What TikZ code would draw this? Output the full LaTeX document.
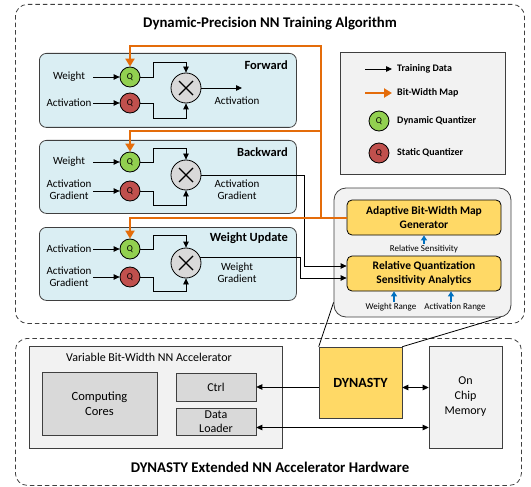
\documentclass[tikz,border=0pt]{standalone}
\usepackage{fontspec}
\setmainfont{Carlito}
\usetikzlibrary{arrows.meta,calc}
\definecolor{pblue}{HTML}{DAEEF3}
\definecolor{qgreen}{HTML}{92D050}
\definecolor{qred}{HTML}{C0504D}
\definecolor{borange}{HTML}{E46C0A}
\definecolor{dyellow}{HTML}{FFD966}
\definecolor{lgray}{HTML}{F2F2F2}
\definecolor{mgray}{HTML}{D9D9D9}
\definecolor{sblue}{HTML}{0070C0}
\definecolor{edgec}{HTML}{3F3F3F}
\pgfdeclarelayer{bg}
\pgfsetlayers{bg,main}
\tikzset{
  outerbox/.style={draw=edgec, dash pattern=on 4.5pt off 3pt, line width=0.8pt, rounded corners=12pt, anchor=north west, inner sep=0},
  panel/.style={draw=edgec, fill=pblue, rounded corners=7pt, line width=0.8pt, anchor=north west, inner sep=0},
  qbase/.style={circle, draw=black, minimum size=20pt, inner sep=0, line width=0.8pt, font=\fontsize{9}{10}\selectfont},
  qg/.style={qbase, fill=qgreen},
  qr/.style={qbase, fill=qred},
  mult/.style={circle, draw=black, fill=mgray, minimum size=30pt, inner sep=0, line width=0.8pt,
    path picture={\draw[line width=1.4pt] ([shift={(-7pt,-7pt)}]path picture bounding box.center) -- ([shift={(7pt,7pt)}]path picture bounding box.center);
                  \draw[line width=1.4pt] ([shift={(-7pt,7pt)}]path picture bounding box.center) -- ([shift={(7pt,-7pt)}]path picture bounding box.center);}},
  data/.style={-{Triangle[length=6pt,width=5.5pt]}, line width=0.8pt},
  bidata/.style={{Triangle[length=6pt,width=5.5pt]}-{Triangle[length=6pt,width=5.5pt]}, line width=0.8pt},
  bw/.style={-{Triangle[length=8pt,width=9pt]}, draw=borange, line width=2pt},
  sarrow/.style={-{Triangle[length=5pt,width=6pt]}, draw=sblue, line width=1.2pt},
  lbl/.style={font=\fontsize{11}{12}\selectfont, align=center, inner sep=0},
  inlbl/.style={lbl, minimum width=48pt},
  ptitle/.style={font=\bfseries\fontsize{12.5}{14}\selectfont, anchor=east, inner sep=0},
  legtxt/.style={font=\bfseries\fontsize{10}{12}\selectfont, anchor=west, inner sep=0},
  small/.style={font=\fontsize{9}{10}\selectfont, inner sep=1pt},
  ybox/.style={draw=black, fill=dyellow, rounded corners=5pt, line width=0.8pt, align=center, font=\bfseries\fontsize{11.5}{14}\selectfont, inner sep=0},
  gbox/.style={draw=edgec, fill=lgray, line width=0.6pt, inner sep=0, align=center, font=\fontsize{12}{15}\selectfont},
  dbox/.style={draw=edgec, fill=mgray, line width=0.6pt, inner sep=0, align=center, font=\fontsize{12.5}{15}\selectfont},
  bigtitle/.style={font=\bfseries\fontsize{14.8}{17}\selectfont, inner sep=0}
}
\begin{document}
\begin{tikzpicture}[x=1pt,y=-1pt]
\useasboundingbox (0,0) rectangle (531,487);
\begin{pgfonlayer}{bg}
\node[outerbox, minimum width=509pt, minimum height=319pt] (topbox) at (15,4) {};
\node[outerbox, minimum width=506pt, minimum height=147pt] (botbox) at (15,338) {};
\end{pgfonlayer}
\node[bigtitle] (t1) at (270,24) {Dynamic-Precision NN Training Algorithm};
\node[bigtitle] (t2) at (270,467) {DYNASTY Extended NN Accelerator Hardware};

% panels
\node[panel, minimum width=257pt, minimum height=74pt] (pf) at (39,53) {};
\node[panel, minimum width=257pt, minimum height=73pt] (pb) at (39,140) {};
\node[panel, minimum width=257pt, minimum height=73pt] (pw) at (39,227) {};
\node[ptitle] (tf) at (288,65) {Forward};
\node[ptitle] (tb) at (288,152) {Backward};
\node[ptitle] (tw) at (288,238) {Weight Update};

% forward
\node[qg] (g1) at (130,77) {Q};
\node[qr] (r1) at (130,103) {Q};
\node[mult] (m1) at (186,88) {};
\node[inlbl] (l1a) at (69,77) {Weight};
\node[inlbl] (l1b) at (69,103) {Activation};
\coordinate (o1) at (242,88);
\node[lbl] (l1o) at (237,101) {Activation};
\draw[data] (l1a.east) -- (g1.west);
\draw[data] (l1b.east) -- (r1.west);
\draw[data] (g1.east) -| (153,62) -| (m1.north);
\draw[data] (r1.east) -| (153,118) -| (m1.south);
\draw[data] (m1.east) -- (o1);

% backward
\node[qg] (g2) at (130,162) {Q};
\node[qr] (r2) at (130,191) {Q};
\node[mult] (m2) at (186,175) {};
\node[inlbl] (l2a) at (69,162) {Weight};
\node[inlbl] (l2b) at (69,190) {Activation\\Gradient};
\node[lbl] (l2o) at (237,190) {Activation\\Gradient};
\draw[data] (l2a.east) -- (g2.west);
\draw[data] (l2b.east |- r2.west) -- (r2.west);
\draw[data] (g2.east) -| (153,148) -| (m2.north);
\draw[data] (r2.east) -| (153,205) -| (m2.south);

% weight update
\node[qg] (g3) at (130,249) {Q};
\node[qr] (r3) at (130,277) {Q};
\node[mult] (m3) at (186,263) {};
\node[inlbl] (l3a) at (69,249) {Activation};
\node[inlbl] (l3b) at (69,277) {Activation\\Gradient};
\node[lbl] (l3o) at (237,273) {Weight\\Gradient};
\draw[data] (l3a.east) -- (g3.west);
\draw[data] (l3b.east |- r3.west) -- (r3.west);
\draw[data] (g3.east) -| (153,235) -| (m3.north);
\draw[data] (r3.east) -| (153,291) -| (m3.south);

% legend
\node[gbox, minimum width=165pt, minimum height=122pt] (leg) at (422.5,113) {};
\coordinate (la1) at (365,69);
\coordinate (la2) at (392,69);
\coordinate (lb1) at (365,93);
\coordinate (lb2) at (392,93);
\draw[data] (la1) -- (la2);
\draw[bw] (lb1) -- (lb2);
\node[legtxt] (lt1) at (397,69) {Training Data};
\node[legtxt] (lt2) at (397,93) {Bit-Width Map};
\node[qg] (lq1) at (379,121) {Q};
\node[qr] (lq2) at (379,153) {Q};
\node[legtxt] (lt3) at (397,121) {Dynamic Quantizer};
\node[legtxt] (lt4) at (397,153) {Static Quantizer};

% analytics panel
\node[draw=edgec, fill=lgray, rounded corners=12pt, line width=0.8pt, minimum width=177pt, minimum height=129pt, inner sep=0] (ana) at (422.5,252.5) {};
\node[ybox, minimum width=154pt, minimum height=35pt] (ab) at (424,217.5) {Adaptive Bit-Width Map\\Generator};
\node[ybox, minimum width=154pt, minimum height=35pt] (rqa) at (424,273.5) {Relative Quantization\\Sensitivity Analytics};
\node[small] (rs) at (424,249) {Relative Sensitivity};
\node[small] (wr) at (391,307) {Weight Range};
\node[small] (ar) at (455,307) {Activation Range};
\draw[sarrow] (rs.north) -- (ab.south);
\draw[sarrow] ([xshift=3pt]wr.north) -- ([xshift=3pt]wr.north |- rqa.south);
\draw[sarrow] ([xshift=-4pt]ar.north) -- ([xshift=-4pt]ar.north |- rqa.south);

% data to analytics
\draw[data] (m2.east) -| (304,266) -- ($(rqa.west)+(0,-7.5)$);
\draw[data] (m3.20) -| (300,278) -- ($(rqa.west)+(0,4.5)$);

% bit-width map
\coordinate (j1) at (321,217.5);
\coordinate (j2) at (321,131);
\draw[bw] (ab.west) -| (g3.north);
\draw[bw] (j1) |- (130,46) -- (g1.north);
\draw[bw] (j2) -| (g2.north);

% hardware
\node[gbox, minimum width=253pt, minimum height=102pt] (vba) at (155.5,397) {};
\node[lbl, font=\fontsize{12}{14}\selectfont] (vbl) at (149,357) {Variable Bit-Width NN Accelerator};
\node[dbox, minimum width=115pt, minimum height=63pt] (cc) at (99.5,403.5) {Computing\\Cores};
\node[dbox, minimum width=80pt, minimum height=28pt, font=\fontsize{12}{14}\selectfont] (ctrl) at (216,387) {Ctrl};
\node[dbox, minimum width=80pt, minimum height=27pt, font=\fontsize{12}{14.5}\selectfont] (dl) at (216,421.5) {Data\\Loader};
\node[draw=edgec, fill=dyellow, line width=0.6pt, minimum width=83pt, minimum height=71pt, inner sep=0, font=\bfseries\fontsize{14}{16}\selectfont] (dyn) at (360.5,382.5) {DYNASTY};
\node[gbox, minimum width=73pt, minimum height=102pt, font=\fontsize{12}{15}\selectfont] (mem) at (465.5,397) {On\\Chip\\Memory};
\draw[data] (ctrl.east -| dyn.west) -- (ctrl.east);
\coordinate (dmr) at ($(dyn.east)+(0,5)$);
\draw[bidata] (dmr) -- (dmr -| mem.west);
\coordinate (dlr) at ($(dl.east)+(0,6)$);
\draw[bidata] (dlr) -- (dlr -| mem.west);

% callout
\coordinate (c1) at ($(ana.south west)+(0,-15)$);
\coordinate (c2) at ($(ana.south east)+(-11,0)$);
\draw[line width=0.8pt] (dyn.north west) -- (c1);
\draw[line width=0.8pt] (dyn.north east) -- (c2);
\end{tikzpicture}
\end{document}
